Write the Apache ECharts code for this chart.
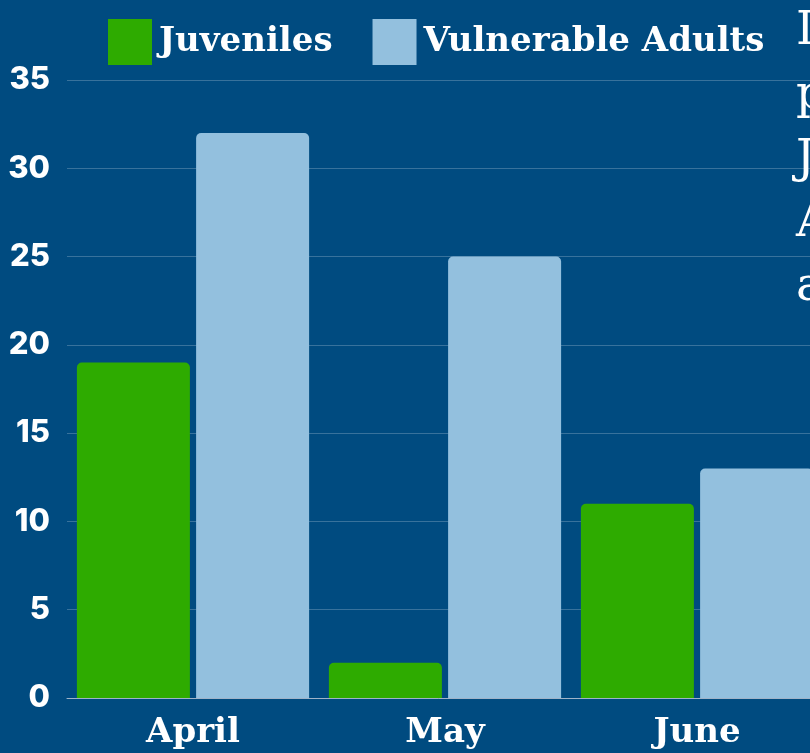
<!DOCTYPE html>
<html>
<head>
<meta charset="utf-8">
<script src="https://cdn.jsdelivr.net/npm/echarts@6/dist/echarts.min.js"></script>
<style>
  html, body { margin: 0; padding: 0; background: #004b80; }
  #chart { width: 810px; height: 753px; }
</style>
</head>
<body>
<div id="chart"></div>
<script>
var months = ['April', 'May', 'June'];
var juveniles = [19, 2, 11];
var vulnerableAdults = [32, 25, 13];
var yTicks = [0, 5, 10, 15, 20, 25, 30, 35];
// side text is cut off by the right edge, only first letters show
var sideLetters = ['I', 'p', 'J', 'A', 'a'];

var chart = echarts.init(document.getElementById('chart'));

var slab = '"DejaVu Serif", serif';

var sideText = sideLetters.map(function (ch, i) {
  return {
    type: 'text',
    left: 796,
    top: 8 + i * 64,
    style: { text: ch, fill: '#ffffff', font: '47px "DejaVu Serif", serif' }
  };
});

var option = {
  backgroundColor: '#004b80',
  animation: false,
  legend: {
    left: 103,
    top: 14,
    itemWidth: 44,
    itemHeight: 46,
    itemGap: 40,
    icon: 'rect',
    textStyle: {
      color: '#ffffff',
      fontFamily: slab,
      fontWeight: 'bold',
      fontSize: 34,
      padding: [0, 0, 0, 2]
    },
    data: ['Juveniles', 'Vulnerable Adults']
  },
  grid: {
    left: 67,
    width: 756,
    top: 80,
    bottom: 55,
    outerBoundsMode: 'none'
  },
  xAxis: {
    type: 'category',
    data: months,
    axisLine: { lineStyle: { color: '#9fb3c8', width: 1 } },
    axisTick: { show: false },
    axisLabel: {
      color: '#ffffff',
      fontFamily: slab,
      fontWeight: 'bold',
      fontSize: 34,
      margin: 18
    }
  },
  yAxis: {
    type: 'value',
    min: yTicks[0],
    max: yTicks[yTicks.length - 1],
    interval: 5,
    axisLine: { show: false },
    axisTick: { show: false },
    axisLabel: {
      color: '#ffffff',
      fontFamily: 'Inter, "DejaVu Sans", sans-serif',
      fontWeight: 800,
      fontSize: 31,
      margin: 17
    },
    splitLine: { lineStyle: { color: 'rgba(255,255,255,0.22)', width: 1 } }
  },
  series: [{
    name: 'Juveniles',
    type: 'bar',
    data: juveniles,
    barWidth: 113,
    barGap: '5.5%',
    itemStyle: { color: '#2eab00', borderRadius: [5, 5, 0, 0] }
  }, {
    name: 'Vulnerable Adults',
    type: 'bar',
    data: vulnerableAdults,
    barWidth: 113,
    itemStyle: { color: '#93c0de', borderRadius: [5, 5, 0, 0] }
  }],
  graphic: sideText
};

chart.setOption(option);
</script>
</body>
</html>
